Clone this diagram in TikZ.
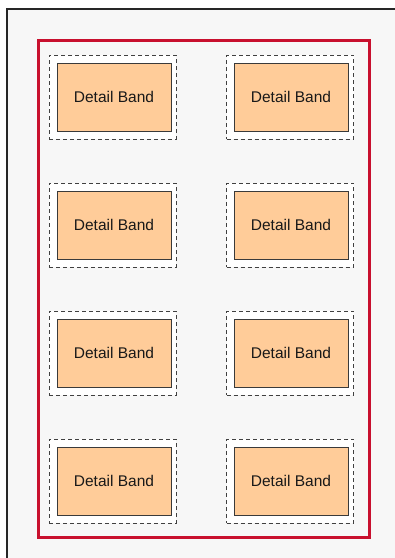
\documentclass[tikz,border=0pt]{standalone}
\usepackage{fontspec}
\setmainfont{Liberation Sans}
\definecolor{bggray}{HTML}{F7F7F7}
\definecolor{framered}{HTML}{C8102E}
\definecolor{bandfill}{HTML}{FFCC99}
\definecolor{bandline}{HTML}{3A3A3A}
\tikzset{
  holder/.style={draw=black!75, dash pattern=on 4pt off 3pt, fill=white, line width=1pt, minimum width=127pt, minimum height=84pt, inner sep=0pt},
  band/.style={draw=bandline, fill=bandfill, line width=1pt, minimum width=114pt, minimum height=68pt, inner sep=0pt, font=\fontsize{15.5}{18}\selectfont, text=black!90}
}
\begin{document}
\begin{tikzpicture}[x=1pt,y=-1pt]
\useasboundingbox (0,0) rectangle (395,558);
\clip (0,0) rectangle (395,558);
\fill[bggray] (7,9) rectangle (400,565);
\draw[line width=1.8pt, black!85] (7,565) -- (7,9) -- (400,9);
\draw[framered, line width=3pt] (38,40) rectangle (369,537);
\foreach \r/\yy in {1/97,2/225,3/353,4/481}{
  \node[holder] (hl\r) at (112.5,\yy) {};
  \node[band] (bl\r) at (114,\yy) {Detail Band};
  \node[holder] (hr\r) at (290,\yy) {};
  \node[band] (br\r) at (291,\yy) {Detail Band};
}
\end{tikzpicture}
\end{document}
